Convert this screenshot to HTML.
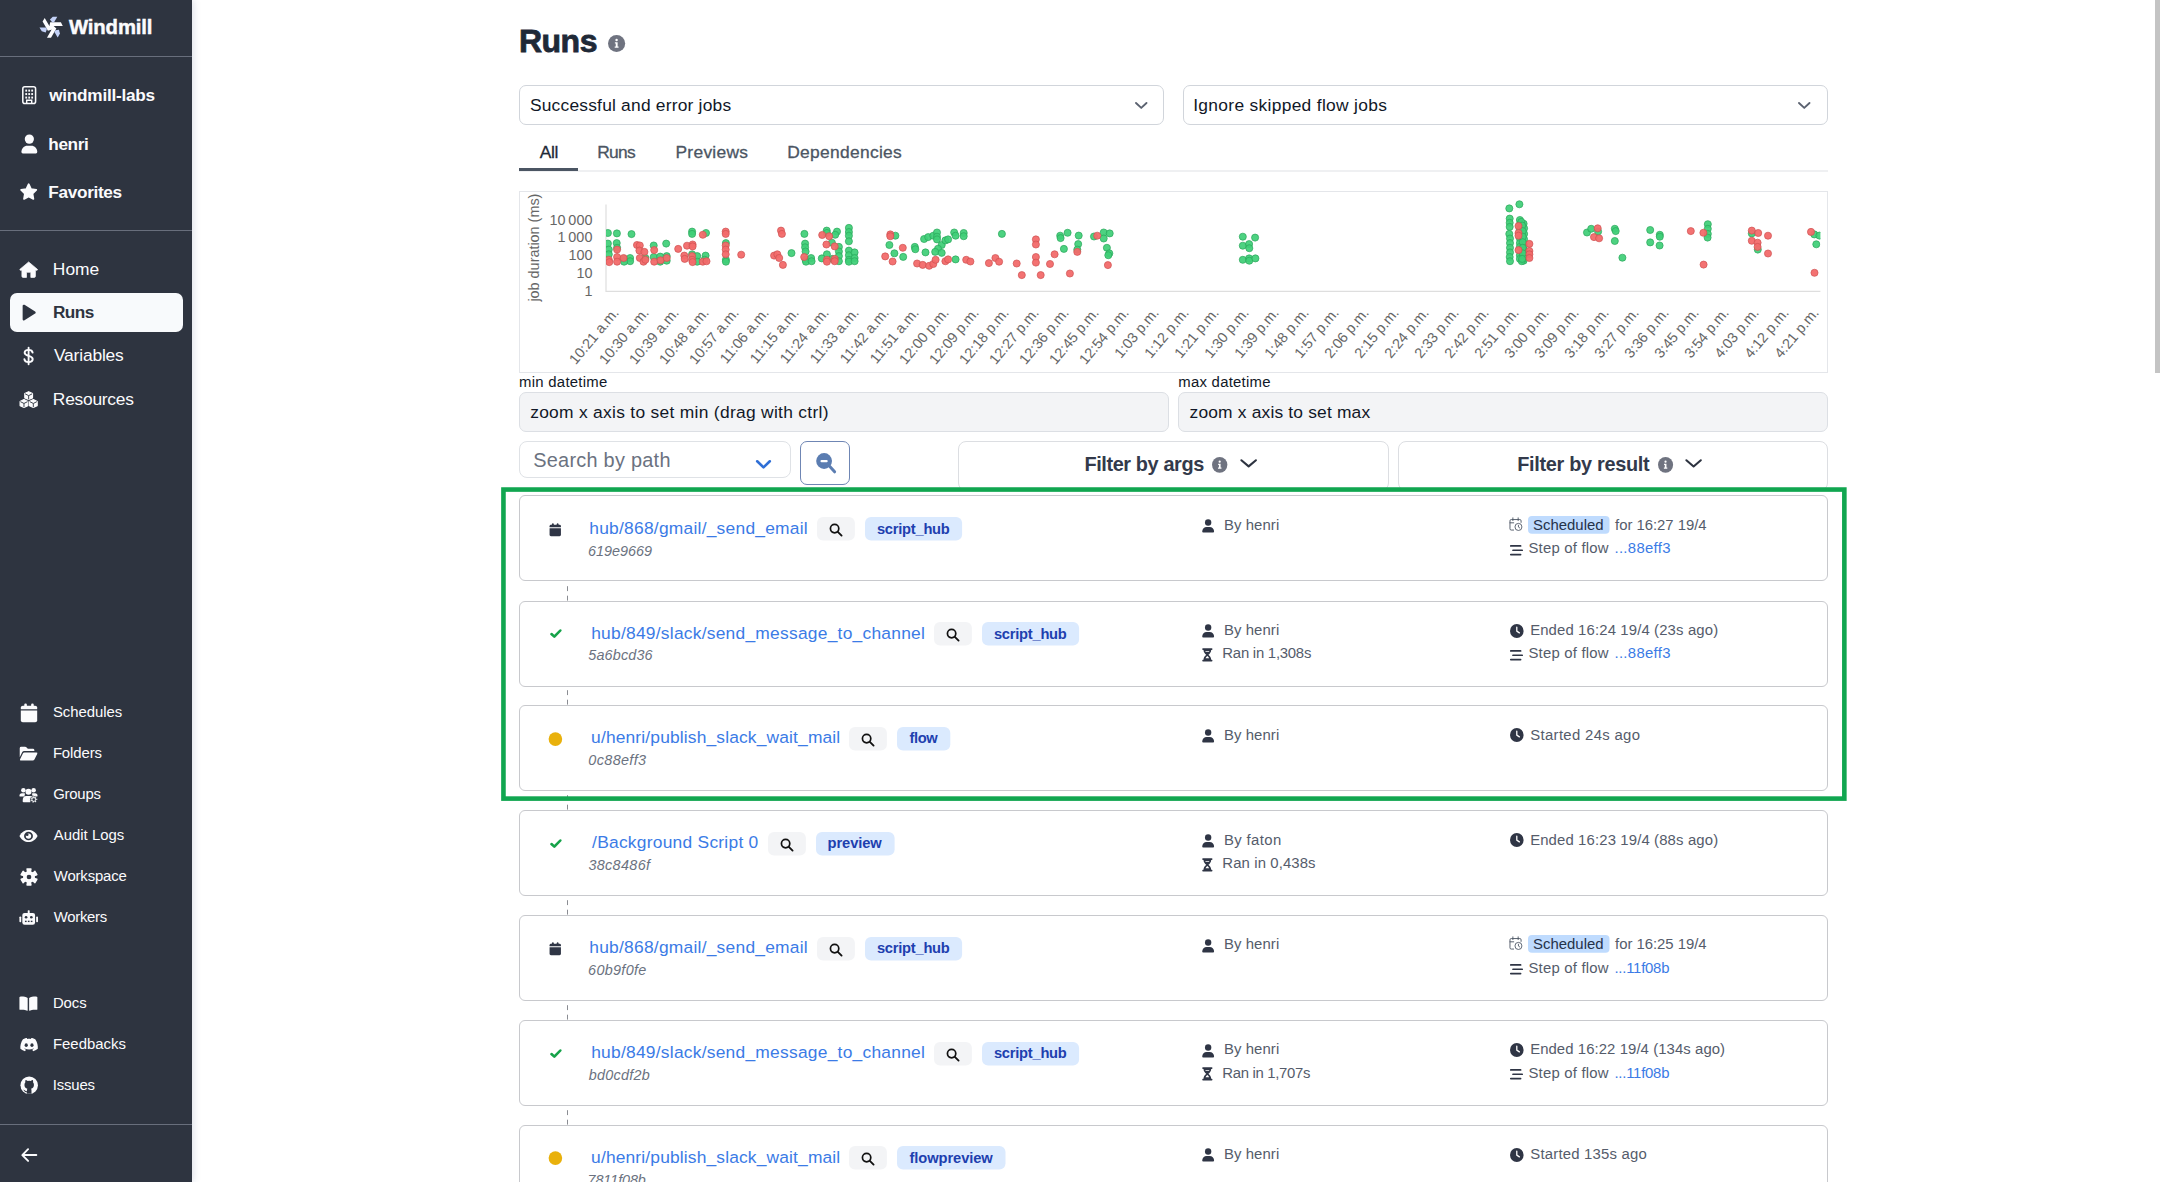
<!DOCTYPE html>
<html lang="en"><head><meta charset="utf-8"><title>Runs | Windmill</title>
<style>
html,body{margin:0;padding:0;}
body{width:2160px;height:1182px;position:relative;overflow:hidden;background:#fff;font-family:"Liberation Sans",sans-serif;}
.t{position:absolute;white-space:nowrap;line-height:1;}
.b{position:absolute;box-sizing:border-box;}
.i{position:absolute;overflow:visible;}
#sidebar{position:absolute;left:0;top:0;width:192px;height:1182px;background:#2e3440;box-shadow:2px 0 7px rgba(60,80,130,0.16);}
.hr{position:absolute;left:0;width:192px;height:1px;background:#686e7c;}
a{color:inherit;text-decoration:none;}
</style></head><body>

<div id="sidebar">
<div class="hr" style="top:56px"></div><div class="hr" style="top:230px"></div><div class="hr" style="top:1124px"></div>
<div class="b" style="left:10.00px;top:293.00px;width:173.00px;height:39.20px;background:#f8fafc;border-radius:7px;"></div>
<svg class="i" style="left:38.60px;top:15.60px;color:#fff;" width="24.60" height="22.80" viewBox="-12.5 -11.2 24.6 22.8" preserveAspectRatio="none"><g transform="rotate(0)"><path d="M-1.3 -4.86 L9.4 -4.86 L11.3 -1.3 L2.0 -1.3 L0.4 1.2 L-2.2 -0.6 Z" fill="#fdfdff"/><path d="M-1.6 -7.65 L1.3 -10.5 L5.8 -10.5 L2.6 -4.86 L0.65 -4.86 Z" fill="#c3d1f7"/></g><g transform="rotate(120)"><path d="M-1.3 -4.86 L9.4 -4.86 L11.3 -1.3 L2.0 -1.3 L0.4 1.2 L-2.2 -0.6 Z" fill="#fdfdff"/><path d="M-1.6 -7.65 L1.3 -10.5 L5.8 -10.5 L2.6 -4.86 L0.65 -4.86 Z" fill="#c3d1f7"/></g><g transform="rotate(240)"><path d="M-1.3 -4.86 L9.4 -4.86 L11.3 -1.3 L2.0 -1.3 L0.4 1.2 L-2.2 -0.6 Z" fill="#fdfdff"/><path d="M-1.6 -7.65 L1.3 -10.5 L5.8 -10.5 L2.6 -4.86 L0.65 -4.86 Z" fill="#c3d1f7"/></g></svg>
<div class="t" id="t1" style="left:68.97px;top:17.00px;font-size:20.3px;color:#fbfbfd;font-weight:700;letter-spacing:-0.117px;-webkit-text-stroke:0.45px #fbfbfd;">Windmill</div>
<svg class="i" style="left:21.80px;top:86.30px;color:#fbfbfd;" width="14.40" height="18.40" viewBox="0 0 16 20" preserveAspectRatio="none"><rect x="0.9" y="0.9" width="14.2" height="18.2" rx="2.2" fill="none" stroke="currentColor" stroke-width="1.7"/>
<g fill="currentColor"><rect x="3.7" y="3.9" width="2" height="2.2"/><rect x="7" y="3.9" width="2" height="2.2"/><rect x="10.3" y="3.9" width="2" height="2.2"/>
<rect x="3.7" y="7.7" width="2" height="2.2"/><rect x="7" y="7.7" width="2" height="2.2"/><rect x="10.3" y="7.7" width="2" height="2.2"/>
<rect x="3.7" y="11.5" width="2" height="2.2"/><rect x="7" y="11.5" width="2" height="2.2"/><rect x="10.3" y="11.5" width="2" height="2.2"/></g>
<path d="M5.2 19 V15.6 H10.8 V19" fill="none" stroke="currentColor" stroke-width="1.6"/></svg>
<div class="t" id="t2" style="left:49.20px;top:87.00px;font-size:17.2px;color:#fbfbfd;font-weight:700;letter-spacing:-0.242px;">windmill-labs</div>
<svg class="i" style="left:20.70px;top:133.70px;color:#fbfbfd;" width="16.70" height="19.90" viewBox="0 0 24 28" preserveAspectRatio="none"><circle cx="12" cy="7.2" r="6.6" fill="currentColor"/><path d="M0.6 25.5 C0.6 19.8 4.6 16.4 9 16.4 H15 C19.4 16.4 23.4 19.8 23.4 25.5 Q23.4 27.6 21.4 27.6 H2.6 Q0.6 27.6 0.6 25.5Z" fill="currentColor"/></svg>
<div class="t" id="t3" style="left:48.25px;top:136.00px;font-size:17.2px;color:#fbfbfd;font-weight:700;letter-spacing:-0.347px;">henri</div>
<svg class="i" style="left:20.30px;top:183.00px;color:#fbfbfd;" width="17.40" height="17.80" viewBox="0 0 24 24" preserveAspectRatio="none"><path d="M12.00 1.60 L15.23 8.15 L22.46 9.20 L17.23 14.30 L18.47 21.50 L12.00 18.10 L5.53 21.50 L6.77 14.30 L1.54 9.20 L8.77 8.15Z" fill="currentColor" stroke="currentColor" stroke-width="2.4" stroke-linejoin="round"/></svg>
<div class="t" id="t4" style="left:48.34px;top:184.00px;font-size:17.2px;color:#fbfbfd;font-weight:700;letter-spacing:-0.327px;">Favorites</div>
<svg class="i" style="left:19.30px;top:260.90px;color:#fbfbfd;" width="19.30" height="17.20" viewBox="0 0 24 22" preserveAspectRatio="none"><path d="M12 1.2 L1.2 10.6 Q0.6 11.8 1.8 11.9 H3.6 V19.6 Q3.6 21 5 21 H9.3 V14.4 H14.7 V21 H19 Q20.4 21 20.4 19.6 V11.9 H22.2 Q23.4 11.8 22.8 10.6 Z" fill="currentColor" stroke="currentColor" stroke-width="0.9" stroke-linejoin="round"/></svg>
<div class="t" id="t5" style="left:52.84px;top:261.00px;font-size:17.4px;color:#fbfbfd;letter-spacing:-0.001px;">Home</div>
<svg class="i" style="left:22.00px;top:304.20px;color:#2e3440;" width="14.20" height="17.10" viewBox="0 0 20 24" preserveAspectRatio="none"><path d="M2.6 2.6 L17.6 12 L2.6 21.4 Z" fill="currentColor" stroke="currentColor" stroke-width="3.4" stroke-linejoin="round"/></svg>
<div class="t" id="t6" style="left:53.00px;top:304.00px;font-size:17.2px;color:#2e3440;font-weight:700;letter-spacing:-0.587px;">Runs</div>
<svg class="i" style="left:23.30px;top:347.40px;color:#fbfbfd;" width="11.20" height="18.00" viewBox="0 0 14 24" preserveAspectRatio="none"><path d="M12 7.4 C11.6 4.8 9.6 3.8 7 3.8 C4.2 3.8 2.1 5.2 2.1 7.6 C2.1 10.2 4.4 10.9 7 11.7 C9.8 12.5 12.1 13.3 12.1 16.1 C12.1 18.6 9.9 20.1 7 20.1 C4.2 20.1 2.2 18.9 1.8 16.4" fill="none" stroke="currentColor" stroke-width="2.5" stroke-linecap="round"/><path d="M7 0.9 V23.1" stroke="currentColor" stroke-width="2.3" stroke-linecap="round"/></svg>
<div class="t" id="t7" style="left:53.93px;top:347.00px;font-size:17.4px;color:#fbfbfd;letter-spacing:-0.167px;">Variables</div>
<svg class="i" style="left:19.30px;top:390.60px;color:#fbfbfd;" width="19.30" height="17.40" viewBox="0 0 26 24" preserveAspectRatio="none"><path d="M13 0.9399999999999995 L18.2 3.5608 V9.457600000000001 L13 11.860000000000001 L7.8 9.457600000000001 V3.5608 Z" fill="currentColor" stroke="currentColor" stroke-width="1.6" stroke-linejoin="round"/><path d="M8.2 3.8884000000000003 L13 6.4 L17.8 3.8884000000000003 M13 6.4 V11.56" fill="none" stroke="#2e3440" stroke-width="1.25"/><path d="M6.7 11.739999999999998 L11.9 14.3608 V20.2576 L6.7 22.66 L1.5 20.2576 V14.3608 Z" fill="currentColor" stroke="currentColor" stroke-width="1.6" stroke-linejoin="round"/><path d="M1.9 14.6884 L6.7 17.2 L11.5 14.6884 M6.7 17.2 V22.36" fill="none" stroke="#2e3440" stroke-width="1.25"/><path d="M19.3 11.739999999999998 L24.5 14.3608 V20.2576 L19.3 22.66 L14.100000000000001 20.2576 V14.3608 Z" fill="currentColor" stroke="currentColor" stroke-width="1.6" stroke-linejoin="round"/><path d="M14.500000000000002 14.6884 L19.3 17.2 L24.1 14.6884 M19.3 17.2 V22.36" fill="none" stroke="#2e3440" stroke-width="1.25"/></svg>
<div class="t" id="t8" style="left:52.84px;top:391.00px;font-size:17.4px;color:#fbfbfd;letter-spacing:-0.257px;">Resources</div>
<svg class="i" style="left:20.00px;top:703.10px;color:#fbfbfd;" width="18.00" height="19.70" viewBox="0 0 22 24" preserveAspectRatio="none"><rect x="5.2" y="0.6" width="3.2" height="6" rx="1.5" fill="currentColor"/><rect x="13.6" y="0.6" width="3.2" height="6" rx="1.5" fill="currentColor"/>
<path d="M1 7.6 V5.6 Q1 3.2 3.4 3.2 H18.6 Q21 3.2 21 5.6 V7.6 Z" fill="currentColor"/><path d="M1 9.2 H21 V21 Q21 23.4 18.6 23.4 H3.4 Q1 23.4 1 21 Z" fill="currentColor"/></svg>
<div class="t" id="t9" style="left:52.98px;top:705.00px;font-size:14.9px;color:#fbfbfd;letter-spacing:-0.026px;">Schedules</div>
<svg class="i" style="left:19.20px;top:746.00px;color:#fbfbfd;" width="19.00" height="15.20" viewBox="0 0 26 21" preserveAspectRatio="none"><path d="M1 3 Q1 1 3 1 H8.4 Q9.4 1 10.1 1.7 L11.4 3 Q12.1 3.7 13.1 3.7 H19 Q21 3.7 21 5.7 V7 H7.2 Q5.2 7 4.3 8.8 L1 15.4 Z" fill="currentColor"/><path d="M7.4 9 H23.8 Q25.9 9 24.9 10.9 L21.1 18.6 Q20.4 20 18.9 20 H2.4 Q0.6 20 1.5 18.3 L5.3 10.4 Q6 9 7.4 9 Z" fill="currentColor"/></svg>
<div class="t" id="t10" style="left:52.89px;top:746.00px;font-size:14.9px;color:#fbfbfd;letter-spacing:-0.096px;">Folders</div>
<svg class="i" style="left:19.40px;top:786.80px;color:#fbfbfd;" width="19.00" height="15.90" viewBox="0 0 26 22" preserveAspectRatio="none"><circle cx="6" cy="4.4" r="3.1" fill="currentColor"/><circle cx="20" cy="4.4" r="3.1" fill="currentColor"/><circle cx="13" cy="6.6" r="4.1" fill="currentColor"/>
<path d="M0.6 12.4 Q0.6 8.8 4 8.8 H7.2 Q8 8.8 8.6 9.2 Q7.2 11 7.6 13 H1.2 Q0.6 13 0.6 12.4Z" fill="currentColor"/>
<path d="M25.4 12.4 Q25.4 8.8 22 8.8 H18.8 Q18 8.8 17.4 9.2 Q18.8 11 18.4 13 H24.8 Q25.4 13 25.4 12.4Z" fill="currentColor"/>
<path d="M5 19.6 Q5 12.6 10 12.6 H16 Q17.5 12.6 18.4 13.2 L15.4 16 L15.4 21 H6.4 Q5 21 5 19.6Z" fill="currentColor"/>
<path d="M25.11 16.26 L25.11 18.14 L23.72 17.96 L22.99 19.47 L23.99 20.46 L22.53 21.62 L21.80 20.43 L20.16 20.80 L20.02 22.20 L18.19 21.78 L18.67 20.46 L17.36 19.41 L16.18 20.18 L15.37 18.49 L16.70 18.04 L16.70 16.36 L15.37 15.91 L16.18 14.22 L17.36 14.99 L18.67 13.94 L18.19 12.62 L20.02 12.20 L20.16 13.60 L21.80 13.97 L22.53 12.78 L23.99 13.94 L22.99 14.93 L23.72 16.44Z M21.9 17.2 A1.7 1.7 0 1 0 18.5 17.2 A1.7 1.7 0 1 0 21.9 17.2Z" fill="currentColor" fill-rule="evenodd" stroke="#2e3440" stroke-width="0.5"/></svg>
<div class="t" id="t11" style="left:53.24px;top:787.00px;font-size:14.9px;color:#fbfbfd;letter-spacing:-0.232px;">Groups</div>
<svg class="i" style="left:19.40px;top:828.50px;color:#fbfbfd;" width="19.00" height="14.10" viewBox="0 0 26 20" preserveAspectRatio="none"><path d="M0.6 10 C3.6 4 8 1.4 13 1.4 S22.4 4 25.4 10 C22.4 16 18 18.6 13 18.6 S3.6 16 0.6 10Z" fill="currentColor"/><circle cx="13" cy="10" r="6.1" fill="#2e3440"/><circle cx="13" cy="10" r="3.7" fill="currentColor"/><circle cx="11.2" cy="8.2" r="1.9" fill="#2e3440"/></svg>
<div class="t" id="t12" style="left:53.79px;top:828.00px;font-size:14.9px;color:#fbfbfd;letter-spacing:0.005px;">Audit Logs</div>
<svg class="i" style="left:20.00px;top:867.60px;color:#fbfbfd;" width="18.00" height="18.00" viewBox="0 0 24 24" preserveAspectRatio="none"><path d="M9.40 1.41 L14.60 1.41 L13.82 5.03 L17.12 6.94 L19.87 4.46 L22.47 8.96 L18.94 10.09 L18.94 13.91 L22.47 15.04 L19.87 19.54 L17.12 17.06 L13.82 18.97 L14.60 22.59 L9.40 22.59 L10.18 18.97 L6.88 17.06 L4.13 19.54 L1.53 15.04 L5.06 13.91 L5.06 10.09 L1.53 8.96 L4.13 4.46 L6.88 6.94 L10.18 5.03Z M15.3 12 A3.3 3.3 0 1 0 8.7 12 A3.3 3.3 0 1 0 15.3 12Z" fill="currentColor" fill-rule="evenodd" stroke="currentColor" stroke-width="1.9" stroke-linejoin="round"/><circle cx="12" cy="12" r="3.1" fill="#2e3440"/></svg>
<div class="t" id="t13" style="left:53.82px;top:869.00px;font-size:14.9px;color:#fbfbfd;letter-spacing:-0.155px;">Workspace</div>
<svg class="i" style="left:19.20px;top:909.90px;color:#fbfbfd;" width="19.40" height="15.10" viewBox="0 0 28 22" preserveAspectRatio="none"><rect x="12.6" y="0.4" width="2.8" height="5" rx="1" fill="currentColor"/><rect x="4.8" y="4.2" width="18.4" height="17.2" rx="3.2" fill="currentColor"/>
<rect x="0.6" y="9.4" width="2.6" height="8.4" rx="1.2" fill="currentColor"/><rect x="24.8" y="9.4" width="2.6" height="8.4" rx="1.2" fill="currentColor"/>
<circle cx="10.2" cy="10.6" r="1.9" fill="#2e3440"/><circle cx="17.8" cy="10.6" r="1.9" fill="#2e3440"/>
<rect x="8.6" y="15.6" width="2.4" height="2" fill="#2e3440"/><rect x="12.8" y="15.6" width="2.4" height="2" fill="#2e3440"/><rect x="17" y="15.6" width="2.4" height="2" fill="#2e3440"/></svg>
<div class="t" id="t14" style="left:53.82px;top:910.00px;font-size:14.9px;color:#fbfbfd;letter-spacing:-0.294px;">Workers</div>
<svg class="i" style="left:19.40px;top:996.00px;color:#fbfbfd;" width="18.80" height="15.30" viewBox="0 0 26 21" preserveAspectRatio="none"><path d="M0.6 1.8 Q0.6 0.9 1.5 0.9 C5 0.6 9.4 1.2 12 2.6 V20.4 C9.2 19 5 18.6 1.5 19 Q0.6 19 0.6 18.1Z" fill="currentColor"/><path d="M25.4 1.8 Q25.4 0.9 24.5 0.9 C21 0.6 16.6 1.2 14 2.6 V20.4 C16.8 19 21 18.6 24.5 19 Q25.4 19 25.4 18.1Z" fill="currentColor"/></svg>
<div class="t" id="t15" style="left:52.89px;top:996.00px;font-size:14.9px;color:#fbfbfd;letter-spacing:-0.039px;">Docs</div>
<svg class="i" style="left:19.60px;top:1038.20px;color:#fbfbfd;" width="18.20" height="13.40" viewBox="0 0 24 18" preserveAspectRatio="none"><path d="M3.9 1.6 C6 0.6 8 0.2 9 0.1 L9.6 1.3 C11.2 1.1 12.8 1.1 14.4 1.3 L15 0.1 C16 0.2 18 0.6 20.1 1.6 C22.8 5.6 23.9 10 23.5 14.6 C21.6 16.2 19.2 17.2 17.4 17.7 L16.1 15.7 C16.9 15.4 17.7 15 18.3 14.6 L17.9 14.2 C14.1 16 9.9 16 6.1 14.2 L5.7 14.6 C6.3 15 7.1 15.4 7.9 15.7 L6.6 17.7 C4.8 17.2 2.4 16.2 0.5 14.6 C0.1 10 1.2 5.6 3.9 1.6Z" fill="currentColor"/><ellipse cx="8.2" cy="9.6" rx="2.1" ry="2.4" fill="#2e3440"/><ellipse cx="15.8" cy="9.6" rx="2.1" ry="2.4" fill="#2e3440"/></svg>
<div class="t" id="t16" style="left:52.89px;top:1037.00px;font-size:14.9px;color:#fbfbfd;letter-spacing:0.031px;">Feedbacks</div>
<svg class="i" style="left:19.60px;top:1076.20px;color:#fbfbfd;" width="18.40" height="18.50" viewBox="0 0 24 24" preserveAspectRatio="none"><circle cx="12" cy="12" r="11.4" fill="currentColor"/>
<path d="M7.2 5.2 Q8.6 5.4 10 6.4 Q12 5.9 14 6.4 Q15.4 5.4 16.8 5.2 Q17.4 6.8 17 8.2 Q18.3 9.6 18.2 11.8 Q18 15.8 14.4 16.6 Q15 17.4 15 18.6 V23 H9 V21 Q6.4 21.6 5.4 19.2 Q5 18.2 4.2 17.8 Q5.4 17.4 6.2 18.6 Q7.2 20.2 9 19.4 Q9 17.6 9.6 16.6 Q6 15.8 5.8 11.8 Q5.7 9.6 7 8.2 Q6.6 6.8 7.2 5.2Z" fill="#2e3440"/></svg>
<div class="t" id="t17" style="left:52.72px;top:1078.00px;font-size:14.9px;color:#fbfbfd;letter-spacing:-0.160px;">Issues</div>
<svg class="i" style="left:20.60px;top:1148.20px;color:#fbfbfd;" width="16.50" height="14.10" viewBox="0 0 20 17" preserveAspectRatio="none"><path d="M18.6 8.5 H2.2 M8.6 1.4 L1.6 8.5 L8.6 15.6" fill="none" stroke="currentColor" stroke-width="2.3" stroke-linecap="round" stroke-linejoin="round"/></svg>
</div>
<div class="t" id="t18" style="left:519.00px;top:25.00px;font-size:32px;color:#1f2937;font-weight:700;letter-spacing:-0.522px;-webkit-text-stroke:0.8px #1f2937;">Runs</div>
<svg class="i" style="left:608.20px;top:34.70px;color:#6f7380;" width="17.20" height="17.00" viewBox="0 0 20 20" preserveAspectRatio="none"><circle cx="10" cy="10" r="10" fill="currentColor"/><circle cx="10" cy="5.9" r="1.45" fill="#fff"/><path d="M8 8.6 H11.2 V13.4 H12.3 V14.9 H7.8 V13.4 H9 V10.1 H8Z" fill="#fff"/></svg>
<div class="b" style="left:519.00px;top:85.00px;width:645.00px;height:40.00px;border:1px solid #d1d5db;border-radius:7px;"></div>
<div class="b" style="left:1183.00px;top:85.00px;width:645.00px;height:40.00px;border:1px solid #d1d5db;border-radius:7px;"></div>
<div class="t" id="t19" style="left:529.92px;top:97.00px;font-size:17.4px;color:#111827;letter-spacing:0.208px;">Successful and error jobs</div>
<div class="t" id="t20" style="left:1193.21px;top:97.00px;font-size:17.4px;color:#111827;letter-spacing:0.308px;">Ignore skipped flow jobs</div>
<svg class="i" style="left:1134.70px;top:101.70px;color:#5b6270;stroke-width:1.9" width="12.50" height="6.90" viewBox="0 0 20 11" preserveAspectRatio="none"><path d="M1.6 1.6 L10 9.4 L18.4 1.6" fill="none" stroke="currentColor" stroke-width="inherit" stroke-linecap="round" stroke-linejoin="round" vector-effect="non-scaling-stroke"/></svg>
<svg class="i" style="left:1798.20px;top:101.70px;color:#5b6270;stroke-width:1.9" width="12.50" height="6.90" viewBox="0 0 20 11" preserveAspectRatio="none"><path d="M1.6 1.6 L10 9.4 L18.4 1.6" fill="none" stroke="currentColor" stroke-width="inherit" stroke-linecap="round" stroke-linejoin="round" vector-effect="non-scaling-stroke"/></svg>
<div class="b" style="left:519.00px;top:170.00px;width:1309.00px;height:1.50px;background:#eff0f2;"></div>
<div class="b" style="left:519.00px;top:168.30px;width:59.00px;height:2.70px;background:#4b5563;"></div>
<div class="t" id="t21" style="left:539.67px;top:144.00px;font-size:17.4px;color:#1f2937;letter-spacing:-0.288px;-webkit-text-stroke:0.3px #1f2937;">All</div>
<div class="t" id="t22" style="left:597.20px;top:144.00px;font-size:17.4px;color:#4b5563;letter-spacing:-0.674px;-webkit-text-stroke:0.3px #4b5563;">Runs</div>
<div class="t" id="t23" style="left:675.50px;top:144.00px;font-size:17.4px;color:#4b5563;letter-spacing:0.275px;-webkit-text-stroke:0.3px #4b5563;">Previews</div>
<div class="t" id="t24" style="left:787.26px;top:144.00px;font-size:17.4px;color:#4b5563;letter-spacing:0.300px;-webkit-text-stroke:0.3px #4b5563;">Dependencies</div>
<div class="b" style="left:519.00px;top:191.00px;width:1309.00px;height:182.00px;border:1px solid #e4e6ea;"></div>
<svg class="i" style="left:519px;top:191px" width="1308" height="181" viewBox="519 191 1308 181" font-family="'Liberation Sans',sans-serif" font-size="14.4" fill="#666">
<defs><clipPath id="cp"><rect x="606" y="200" width="1214.4" height="92"/></clipPath></defs>
<path d="M606 204.4 V291.4 H1820.4" fill="none" stroke="#dedede" stroke-width="1.2"/>
<text transform="translate(539.3 247.6) rotate(-90)" text-anchor="middle" textLength="108" lengthAdjust="spacing">job duration (ms)</text>
<text x="592.4" y="225.3" text-anchor="end">10 000</text>
<text x="592.4" y="242.3" text-anchor="end">1 000</text>
<text x="592.4" y="260.4" text-anchor="end">100</text>
<text x="592.4" y="278.4" text-anchor="end">10</text>
<text x="592.4" y="296.4" text-anchor="end">1</text>
<text transform="translate(619.5 313.1) rotate(-50)" text-anchor="end">10:21 a.m.</text>
<text transform="translate(649.5 313.1) rotate(-50)" text-anchor="end">10:30 a.m.</text>
<text transform="translate(679.5 313.1) rotate(-50)" text-anchor="end">10:39 a.m.</text>
<text transform="translate(709.5 313.1) rotate(-50)" text-anchor="end">10:48 a.m.</text>
<text transform="translate(739.5 313.1) rotate(-50)" text-anchor="end">10:57 a.m.</text>
<text transform="translate(769.5 313.1) rotate(-50)" text-anchor="end">11:06 a.m.</text>
<text transform="translate(799.5 313.1) rotate(-50)" text-anchor="end">11:15 a.m.</text>
<text transform="translate(829.5 313.1) rotate(-50)" text-anchor="end">11:24 a.m.</text>
<text transform="translate(859.5 313.1) rotate(-50)" text-anchor="end">11:33 a.m.</text>
<text transform="translate(889.5 313.1) rotate(-50)" text-anchor="end">11:42 a.m.</text>
<text transform="translate(919.5 313.1) rotate(-50)" text-anchor="end">11:51 a.m.</text>
<text transform="translate(949.5 313.1) rotate(-50)" text-anchor="end">12:00 p.m.</text>
<text transform="translate(979.5 313.1) rotate(-50)" text-anchor="end">12:09 p.m.</text>
<text transform="translate(1009.5 313.1) rotate(-50)" text-anchor="end">12:18 p.m.</text>
<text transform="translate(1039.5 313.1) rotate(-50)" text-anchor="end">12:27 p.m.</text>
<text transform="translate(1069.5 313.1) rotate(-50)" text-anchor="end">12:36 p.m.</text>
<text transform="translate(1099.5 313.1) rotate(-50)" text-anchor="end">12:45 p.m.</text>
<text transform="translate(1129.5 313.1) rotate(-50)" text-anchor="end">12:54 p.m.</text>
<text transform="translate(1159.5 313.1) rotate(-50)" text-anchor="end">1:03 p.m.</text>
<text transform="translate(1189.5 313.1) rotate(-50)" text-anchor="end">1:12 p.m.</text>
<text transform="translate(1219.5 313.1) rotate(-50)" text-anchor="end">1:21 p.m.</text>
<text transform="translate(1249.5 313.1) rotate(-50)" text-anchor="end">1:30 p.m.</text>
<text transform="translate(1279.5 313.1) rotate(-50)" text-anchor="end">1:39 p.m.</text>
<text transform="translate(1309.5 313.1) rotate(-50)" text-anchor="end">1:48 p.m.</text>
<text transform="translate(1339.5 313.1) rotate(-50)" text-anchor="end">1:57 p.m.</text>
<text transform="translate(1369.5 313.1) rotate(-50)" text-anchor="end">2:06 p.m.</text>
<text transform="translate(1399.5 313.1) rotate(-50)" text-anchor="end">2:15 p.m.</text>
<text transform="translate(1429.5 313.1) rotate(-50)" text-anchor="end">2:24 p.m.</text>
<text transform="translate(1459.5 313.1) rotate(-50)" text-anchor="end">2:33 p.m.</text>
<text transform="translate(1489.5 313.1) rotate(-50)" text-anchor="end">2:42 p.m.</text>
<text transform="translate(1519.5 313.1) rotate(-50)" text-anchor="end">2:51 p.m.</text>
<text transform="translate(1549.5 313.1) rotate(-50)" text-anchor="end">3:00 p.m.</text>
<text transform="translate(1579.5 313.1) rotate(-50)" text-anchor="end">3:09 p.m.</text>
<text transform="translate(1609.5 313.1) rotate(-50)" text-anchor="end">3:18 p.m.</text>
<text transform="translate(1639.5 313.1) rotate(-50)" text-anchor="end">3:27 p.m.</text>
<text transform="translate(1669.5 313.1) rotate(-50)" text-anchor="end">3:36 p.m.</text>
<text transform="translate(1699.5 313.1) rotate(-50)" text-anchor="end">3:45 p.m.</text>
<text transform="translate(1729.5 313.1) rotate(-50)" text-anchor="end">3:54 p.m.</text>
<text transform="translate(1759.5 313.1) rotate(-50)" text-anchor="end">4:03 p.m.</text>
<text transform="translate(1789.5 313.1) rotate(-50)" text-anchor="end">4:12 p.m.</text>
<text transform="translate(1819.5 313.1) rotate(-50)" text-anchor="end">4:21 p.m.</text>
<g clip-path="url(#cp)" stroke-width="0.7">
<g fill="#3fcf77" fill-opacity="0.93" stroke="#2aa65a">
<circle cx="607.9" cy="233.0" r="3.55"/>
<circle cx="616.9" cy="233.4" r="3.55"/>
<circle cx="631.5" cy="234.1" r="3.55"/>
<circle cx="607.9" cy="243.6" r="3.55"/>
<circle cx="616.7" cy="243.1" r="3.55"/>
<circle cx="608.8" cy="249.6" r="3.55"/>
<circle cx="608.8" cy="254.3" r="3.55"/>
<circle cx="617.1" cy="247.8" r="3.55"/>
<circle cx="624.1" cy="258.9" r="3.55"/>
<circle cx="630.1" cy="258.0" r="3.55"/>
<circle cx="630.1" cy="261.2" r="3.55"/>
<circle cx="624.1" cy="261.7" r="3.55"/>
<circle cx="653.7" cy="245.5" r="3.55"/>
<circle cx="666.2" cy="243.6" r="3.55"/>
<circle cx="653.7" cy="257.0" r="3.55"/>
<circle cx="660.2" cy="256.6" r="3.55"/>
<circle cx="666.7" cy="256.1" r="3.55"/>
<circle cx="666.7" cy="260.7" r="3.55"/>
<circle cx="660.2" cy="261.7" r="3.55"/>
<circle cx="692.1" cy="231.6" r="3.55"/>
<circle cx="692.1" cy="233.9" r="3.55"/>
<circle cx="706.0" cy="233.0" r="3.55"/>
<circle cx="692.1" cy="254.3" r="3.55"/>
<circle cx="697.2" cy="256.1" r="3.55"/>
<circle cx="697.2" cy="261.7" r="3.55"/>
<circle cx="705.6" cy="255.6" r="3.55"/>
<circle cx="704.6" cy="259.8" r="3.55"/>
<circle cx="725.9" cy="243.1" r="3.55"/>
<circle cx="725.9" cy="259.8" r="3.55"/>
<circle cx="725.9" cy="261.7" r="3.55"/>
<circle cx="791.5" cy="253.1" r="3.55"/>
<circle cx="645.4" cy="258.0" r="3.55"/>
<circle cx="804.4" cy="233.9" r="3.55"/>
<circle cx="805.1" cy="243.6" r="3.55"/>
<circle cx="805.1" cy="247.3" r="3.55"/>
<circle cx="805.6" cy="251.5" r="3.55"/>
<circle cx="805.6" cy="259.8" r="3.55"/>
<circle cx="806.0" cy="261.7" r="3.55"/>
<circle cx="811.1" cy="258.0" r="3.55"/>
<circle cx="811.6" cy="261.2" r="3.55"/>
<circle cx="826.7" cy="230.6" r="3.55"/>
<circle cx="826.9" cy="233.0" r="3.55"/>
<circle cx="837.0" cy="231.6" r="3.55"/>
<circle cx="835.2" cy="234.8" r="3.55"/>
<circle cx="831.9" cy="242.7" r="3.55"/>
<circle cx="838.9" cy="246.9" r="3.55"/>
<circle cx="838.9" cy="251.5" r="3.55"/>
<circle cx="838.9" cy="256.1" r="3.55"/>
<circle cx="838.9" cy="261.2" r="3.55"/>
<circle cx="826.9" cy="254.3" r="3.55"/>
<circle cx="821.8" cy="258.4" r="3.55"/>
<circle cx="832.4" cy="258.9" r="3.55"/>
<circle cx="848.9" cy="227.9" r="3.55"/>
<circle cx="848.9" cy="232.0" r="3.55"/>
<circle cx="848.9" cy="235.7" r="3.55"/>
<circle cx="848.9" cy="241.3" r="3.55"/>
<circle cx="848.9" cy="250.6" r="3.55"/>
<circle cx="848.9" cy="255.2" r="3.55"/>
<circle cx="848.9" cy="259.8" r="3.55"/>
<circle cx="848.9" cy="261.7" r="3.55"/>
<circle cx="854.6" cy="252.4" r="3.55"/>
<circle cx="854.6" cy="258.0" r="3.55"/>
<circle cx="854.6" cy="261.2" r="3.55"/>
<circle cx="895.4" cy="235.7" r="3.55"/>
<circle cx="889.4" cy="245.0" r="3.55"/>
<circle cx="894.4" cy="253.3" r="3.55"/>
<circle cx="903.2" cy="256.9" r="3.55"/>
<circle cx="914.8" cy="246.9" r="3.55"/>
<circle cx="915.3" cy="249.2" r="3.55"/>
<circle cx="925.5" cy="252.4" r="3.55"/>
<circle cx="924.1" cy="239.0" r="3.55"/>
<circle cx="928.2" cy="237.1" r="3.55"/>
<circle cx="933.3" cy="235.7" r="3.55"/>
<circle cx="937.0" cy="232.5" r="3.55"/>
<circle cx="937.0" cy="236.7" r="3.55"/>
<circle cx="937.0" cy="239.4" r="3.55"/>
<circle cx="941.7" cy="245.0" r="3.55"/>
<circle cx="938.0" cy="248.7" r="3.55"/>
<circle cx="935.2" cy="251.9" r="3.55"/>
<circle cx="941.7" cy="252.9" r="3.55"/>
<circle cx="945.4" cy="240.4" r="3.55"/>
<circle cx="948.1" cy="239.4" r="3.55"/>
<circle cx="954.2" cy="232.5" r="3.55"/>
<circle cx="955.6" cy="235.7" r="3.55"/>
<circle cx="963.7" cy="233.0" r="3.55"/>
<circle cx="963.7" cy="236.2" r="3.55"/>
<circle cx="955.6" cy="259.4" r="3.55"/>
<circle cx="1001.9" cy="233.9" r="3.55"/>
<circle cx="1060.2" cy="235.7" r="3.55"/>
<circle cx="1060.6" cy="238.1" r="3.55"/>
<circle cx="1067.6" cy="232.8" r="3.55"/>
<circle cx="1078.7" cy="235.6" r="3.55"/>
<circle cx="1078.2" cy="244.1" r="3.55"/>
<circle cx="1077.3" cy="249.6" r="3.55"/>
<circle cx="1063.9" cy="248.9" r="3.55"/>
<circle cx="1094.0" cy="236.5" r="3.55"/>
<circle cx="1103.7" cy="232.5" r="3.55"/>
<circle cx="1103.7" cy="238.5" r="3.55"/>
<circle cx="1109.7" cy="233.4" r="3.55"/>
<circle cx="1106.9" cy="247.8" r="3.55"/>
<circle cx="1109.3" cy="253.3" r="3.55"/>
<circle cx="1108.3" cy="255.2" r="3.55"/>
<circle cx="1242.8" cy="236.7" r="3.55"/>
<circle cx="1255.1" cy="237.6" r="3.55"/>
<circle cx="1242.8" cy="245.7" r="3.55"/>
<circle cx="1249.1" cy="244.1" r="3.55"/>
<circle cx="1249.3" cy="248.2" r="3.55"/>
<circle cx="1242.8" cy="259.8" r="3.55"/>
<circle cx="1249.1" cy="258.4" r="3.55"/>
<circle cx="1249.3" cy="260.7" r="3.55"/>
<circle cx="1255.4" cy="258.4" r="3.55"/>
<circle cx="1509.3" cy="208.4" r="3.55"/>
<circle cx="1519.4" cy="204.3" r="3.55"/>
<circle cx="1509.7" cy="218.6" r="3.55"/>
<circle cx="1509.7" cy="222.8" r="3.55"/>
<circle cx="1509.7" cy="226.9" r="3.55"/>
<circle cx="1509.3" cy="233.9" r="3.55"/>
<circle cx="1510.0" cy="238.5" r="3.55"/>
<circle cx="1510.0" cy="243.1" r="3.55"/>
<circle cx="1510.0" cy="247.8" r="3.55"/>
<circle cx="1510.0" cy="252.4" r="3.55"/>
<circle cx="1509.7" cy="257.0" r="3.55"/>
<circle cx="1510.0" cy="261.2" r="3.55"/>
<circle cx="1519.9" cy="220.0" r="3.55"/>
<circle cx="1519.9" cy="224.6" r="3.55"/>
<circle cx="1519.9" cy="229.3" r="3.55"/>
<circle cx="1519.9" cy="238.5" r="3.55"/>
<circle cx="1519.9" cy="243.1" r="3.55"/>
<circle cx="1519.9" cy="246.9" r="3.55"/>
<circle cx="1519.9" cy="255.2" r="3.55"/>
<circle cx="1519.9" cy="258.9" r="3.55"/>
<circle cx="1523.6" cy="223.7" r="3.55"/>
<circle cx="1524.1" cy="228.3" r="3.55"/>
<circle cx="1524.1" cy="233.9" r="3.55"/>
<circle cx="1524.1" cy="239.4" r="3.55"/>
<circle cx="1524.1" cy="245.0" r="3.55"/>
<circle cx="1524.1" cy="250.6" r="3.55"/>
<circle cx="1524.1" cy="256.1" r="3.55"/>
<circle cx="1523.6" cy="260.7" r="3.55"/>
<circle cx="1521.8" cy="261.2" r="3.55"/>
<circle cx="1521.3" cy="221.9" r="3.55"/>
<circle cx="1522.2" cy="225.6" r="3.55"/>
<circle cx="1522.7" cy="231.1" r="3.55"/>
<circle cx="1522.7" cy="236.7" r="3.55"/>
<circle cx="1522.7" cy="242.2" r="3.55"/>
<circle cx="1522.7" cy="247.8" r="3.55"/>
<circle cx="1522.7" cy="253.3" r="3.55"/>
<circle cx="1522.2" cy="258.9" r="3.55"/>
<circle cx="1587.0" cy="232.5" r="3.55"/>
<circle cx="1591.2" cy="228.8" r="3.55"/>
<circle cx="1598.1" cy="231.6" r="3.55"/>
<circle cx="1614.8" cy="228.8" r="3.55"/>
<circle cx="1615.7" cy="231.1" r="3.55"/>
<circle cx="1614.8" cy="241.0" r="3.55"/>
<circle cx="1622.4" cy="257.7" r="3.55"/>
<circle cx="1650.2" cy="230.0" r="3.55"/>
<circle cx="1650.2" cy="242.4" r="3.55"/>
<circle cx="1659.8" cy="234.8" r="3.55"/>
<circle cx="1659.8" cy="236.7" r="3.55"/>
<circle cx="1659.6" cy="245.5" r="3.55"/>
<circle cx="1707.8" cy="224.2" r="3.55"/>
<circle cx="1707.8" cy="228.8" r="3.55"/>
<circle cx="1707.8" cy="233.9" r="3.55"/>
<circle cx="1707.6" cy="237.6" r="3.55"/>
<circle cx="1751.8" cy="233.4" r="3.55"/>
<circle cx="1757.8" cy="249.6" r="3.55"/>
<circle cx="1814.3" cy="234.4" r="3.55"/>
<circle cx="1819.4" cy="235.6" r="3.55"/>
<circle cx="1816.3" cy="244.3" r="3.55"/>
</g><g fill="#f26a6a" fill-opacity="0.95" stroke="#cf5252">
<circle cx="608.8" cy="259.8" r="3.55"/>
<circle cx="609.3" cy="262.1" r="3.55"/>
<circle cx="617.1" cy="249.6" r="3.55"/>
<circle cx="617.1" cy="257.0" r="3.55"/>
<circle cx="617.1" cy="261.7" r="3.55"/>
<circle cx="623.6" cy="258.0" r="3.55"/>
<circle cx="637.0" cy="245.0" r="3.55"/>
<circle cx="639.8" cy="245.5" r="3.55"/>
<circle cx="639.4" cy="250.6" r="3.55"/>
<circle cx="644.4" cy="251.9" r="3.55"/>
<circle cx="639.8" cy="258.0" r="3.55"/>
<circle cx="643.5" cy="261.7" r="3.55"/>
<circle cx="645.4" cy="259.8" r="3.55"/>
<circle cx="654.2" cy="250.1" r="3.55"/>
<circle cx="654.2" cy="261.7" r="3.55"/>
<circle cx="660.6" cy="260.3" r="3.55"/>
<circle cx="666.7" cy="258.0" r="3.55"/>
<circle cx="678.2" cy="248.9" r="3.55"/>
<circle cx="687.0" cy="245.7" r="3.55"/>
<circle cx="692.6" cy="244.5" r="3.55"/>
<circle cx="692.6" cy="246.4" r="3.55"/>
<circle cx="684.3" cy="255.6" r="3.55"/>
<circle cx="684.7" cy="258.9" r="3.55"/>
<circle cx="692.1" cy="256.1" r="3.55"/>
<circle cx="692.1" cy="259.8" r="3.55"/>
<circle cx="692.6" cy="262.1" r="3.55"/>
<circle cx="702.8" cy="234.8" r="3.55"/>
<circle cx="702.8" cy="261.7" r="3.55"/>
<circle cx="706.5" cy="261.2" r="3.55"/>
<circle cx="725.7" cy="231.6" r="3.55"/>
<circle cx="725.7" cy="233.9" r="3.55"/>
<circle cx="725.7" cy="245.5" r="3.55"/>
<circle cx="725.7" cy="249.6" r="3.55"/>
<circle cx="725.7" cy="254.3" r="3.55"/>
<circle cx="741.2" cy="254.7" r="3.55"/>
<circle cx="781.0" cy="230.6" r="3.55"/>
<circle cx="781.9" cy="233.9" r="3.55"/>
<circle cx="774.1" cy="255.6" r="3.55"/>
<circle cx="777.3" cy="254.3" r="3.55"/>
<circle cx="779.2" cy="258.0" r="3.55"/>
<circle cx="782.9" cy="264.9" r="3.55"/>
<circle cx="804.2" cy="257.0" r="3.55"/>
<circle cx="822.2" cy="235.0" r="3.55"/>
<circle cx="829.2" cy="236.2" r="3.55"/>
<circle cx="826.4" cy="244.5" r="3.55"/>
<circle cx="834.7" cy="246.4" r="3.55"/>
<circle cx="826.9" cy="259.8" r="3.55"/>
<circle cx="826.9" cy="261.7" r="3.55"/>
<circle cx="834.7" cy="258.9" r="3.55"/>
<circle cx="834.7" cy="261.2" r="3.55"/>
<circle cx="890.3" cy="234.4" r="3.55"/>
<circle cx="890.3" cy="236.2" r="3.55"/>
<circle cx="902.8" cy="247.8" r="3.55"/>
<circle cx="885.2" cy="256.4" r="3.55"/>
<circle cx="892.6" cy="261.5" r="3.55"/>
<circle cx="917.1" cy="263.5" r="3.55"/>
<circle cx="922.7" cy="264.9" r="3.55"/>
<circle cx="929.2" cy="265.8" r="3.55"/>
<circle cx="933.3" cy="264.0" r="3.55"/>
<circle cx="935.6" cy="259.8" r="3.55"/>
<circle cx="945.4" cy="261.2" r="3.55"/>
<circle cx="948.1" cy="259.4" r="3.55"/>
<circle cx="966.2" cy="259.8" r="3.55"/>
<circle cx="970.4" cy="261.5" r="3.55"/>
<circle cx="988.9" cy="263.1" r="3.55"/>
<circle cx="995.4" cy="258.0" r="3.55"/>
<circle cx="999.1" cy="261.7" r="3.55"/>
<circle cx="1016.7" cy="263.5" r="3.55"/>
<circle cx="1021.8" cy="275.1" r="3.55"/>
<circle cx="1035.9" cy="239.4" r="3.55"/>
<circle cx="1035.9" cy="244.5" r="3.55"/>
<circle cx="1035.9" cy="257.0" r="3.55"/>
<circle cx="1035.9" cy="262.6" r="3.55"/>
<circle cx="1040.7" cy="275.1" r="3.55"/>
<circle cx="1050.0" cy="264.0" r="3.55"/>
<circle cx="1054.6" cy="254.3" r="3.55"/>
<circle cx="1069.9" cy="273.5" r="3.55"/>
<circle cx="1077.3" cy="251.9" r="3.55"/>
<circle cx="1097.2" cy="235.7" r="3.55"/>
<circle cx="1107.9" cy="265.1" r="3.55"/>
<circle cx="1518.5" cy="226.0" r="3.55"/>
<circle cx="1518.5" cy="233.0" r="3.55"/>
<circle cx="1518.5" cy="235.7" r="3.55"/>
<circle cx="1518.5" cy="250.1" r="3.55"/>
<circle cx="1529.4" cy="243.9" r="3.55"/>
<circle cx="1529.4" cy="251.0" r="3.55"/>
<circle cx="1529.4" cy="254.3" r="3.55"/>
<circle cx="1529.4" cy="258.0" r="3.55"/>
<circle cx="1597.7" cy="228.3" r="3.55"/>
<circle cx="1594.0" cy="237.1" r="3.55"/>
<circle cx="1599.1" cy="238.3" r="3.55"/>
<circle cx="1690.8" cy="231.1" r="3.55"/>
<circle cx="1703.4" cy="232.8" r="3.55"/>
<circle cx="1703.6" cy="264.6" r="3.55"/>
<circle cx="1751.8" cy="230.6" r="3.55"/>
<circle cx="1758.2" cy="233.0" r="3.55"/>
<circle cx="1768.0" cy="235.7" r="3.55"/>
<circle cx="1751.8" cy="240.8" r="3.55"/>
<circle cx="1757.6" cy="242.7" r="3.55"/>
<circle cx="1757.6" cy="246.9" r="3.55"/>
<circle cx="1768.0" cy="253.5" r="3.55"/>
<circle cx="1811.0" cy="231.9" r="3.55"/>
<circle cx="1814.5" cy="272.8" r="3.55"/>
</g></g></svg>
<div class="t" id="t25" style="left:519.09px;top:375.00px;font-size:14.9px;color:#111827;letter-spacing:0.269px;">min datetime</div>
<div class="t" id="t26" style="left:1178.32px;top:375.00px;font-size:14.9px;color:#111827;letter-spacing:0.254px;">max datetime</div>
<div class="b" style="left:519.00px;top:392.00px;width:650.00px;height:40.00px;border:1px solid #dcdfe4;border-radius:7px;background:#f3f4f6;"></div>
<div class="b" style="left:1178.00px;top:392.00px;width:650.00px;height:40.00px;border:1px solid #dcdfe4;border-radius:7px;background:#f3f4f6;"></div>
<div class="t" id="t27" style="left:530.15px;top:404.00px;font-size:17.4px;color:#111827;letter-spacing:0.297px;">zoom x axis to set min (drag with ctrl)</div>
<div class="t" id="t28" style="left:1189.53px;top:404.00px;font-size:17.4px;color:#111827;letter-spacing:0.179px;">zoom x axis to set max</div>
<div class="b" style="left:519.00px;top:441.00px;width:272.00px;height:37.00px;border:1px solid #dfe2e6;border-radius:8px;"></div>
<div class="t" id="t29" style="left:533.21px;top:451.00px;font-size:19.9px;color:#6b7280;letter-spacing:0.265px;">Search by path</div>
<svg class="i" style="left:756.10px;top:459.60px;color:#2f6fd6;stroke-width:2.6" width="15.00" height="8.70" viewBox="0 0 20 11" preserveAspectRatio="none"><path d="M1.6 1.6 L10 9.4 L18.4 1.6" fill="none" stroke="currentColor" stroke-width="inherit" stroke-linecap="round" stroke-linejoin="round" vector-effect="non-scaling-stroke"/></svg>
<div class="b" style="left:800.00px;top:441.00px;width:50.00px;height:44.00px;border:1.3px solid #6f86b4;border-radius:7px;"></div>
<svg class="i" style="left:814.50px;top:452.30px;color:#5b7db1;" width="21.00" height="21.00" viewBox="0 0 21 21" preserveAspectRatio="none"><circle cx="9.1" cy="9" r="7.9" fill="currentColor"/><path d="M14.6 14.3 L19.6 19.8" stroke="currentColor" stroke-width="3" stroke-linecap="round"/><rect x="5.5" y="7.9" width="7.2" height="2.3" rx="1" fill="#fff"/></svg>
<div class="b" style="left:958.00px;top:441.00px;width:430.50px;height:50.00px;border:1px solid #dcdee2;border-radius:8px;"></div>
<div class="b" style="left:1398.00px;top:441.00px;width:430.00px;height:50.00px;border:1px solid #dcdee2;border-radius:8px;"></div>
<div class="t" id="t30" style="left:1084.39px;top:455.00px;font-size:19.9px;color:#333a4b;font-weight:700;letter-spacing:-0.389px;">Filter by args</div>
<svg class="i" style="left:1211.60px;top:457.20px;color:#6f7380;" width="15.40" height="15.70" viewBox="0 0 20 20" preserveAspectRatio="none"><circle cx="10" cy="10" r="10" fill="currentColor"/><circle cx="10" cy="5.9" r="1.45" fill="#fff"/><path d="M8 8.6 H11.2 V13.4 H12.3 V14.9 H7.8 V13.4 H9 V10.1 H8Z" fill="#fff"/></svg>
<svg class="i" style="left:1239.60px;top:459.40px;color:#2d3340;stroke-width:2.1" width="17.30" height="8.70" viewBox="0 0 20 11" preserveAspectRatio="none"><path d="M1.6 1.6 L10 9.4 L18.4 1.6" fill="none" stroke="currentColor" stroke-width="inherit" stroke-linecap="round" stroke-linejoin="round" vector-effect="non-scaling-stroke"/></svg>
<div class="t" id="t31" style="left:1517.26px;top:455.00px;font-size:19.9px;color:#333a4b;font-weight:700;letter-spacing:-0.312px;">Filter by result</div>
<svg class="i" style="left:1657.80px;top:457.20px;color:#6f7380;" width="15.10" height="15.70" viewBox="0 0 20 20" preserveAspectRatio="none"><circle cx="10" cy="10" r="10" fill="currentColor"/><circle cx="10" cy="5.9" r="1.45" fill="#fff"/><path d="M8 8.6 H11.2 V13.4 H12.3 V14.9 H7.8 V13.4 H9 V10.1 H8Z" fill="#fff"/></svg>
<svg class="i" style="left:1684.70px;top:459.40px;color:#2d3340;stroke-width:2.1" width="17.20" height="8.70" viewBox="0 0 20 11" preserveAspectRatio="none"><path d="M1.6 1.6 L10 9.4 L18.4 1.6" fill="none" stroke="currentColor" stroke-width="inherit" stroke-linecap="round" stroke-linejoin="round" vector-effect="non-scaling-stroke"/></svg>
<div class="b" style="left:519.00px;top:495.00px;width:1309.00px;height:86.00px;border:1px solid #c8c9cd;border-radius:6px;background:#fff;"></div>
<svg class="i" style="left:548.75px;top:522.50px;color:#2f3545;" width="12.50" height="13.50" viewBox="0 0 22 24" preserveAspectRatio="none"><rect x="5.2" y="0.6" width="3.2" height="6" rx="1.5" fill="currentColor"/><rect x="13.6" y="0.6" width="3.2" height="6" rx="1.5" fill="currentColor"/>
<path d="M1 7.6 V5.6 Q1 3.2 3.4 3.2 H18.6 Q21 3.2 21 5.6 V7.6 Z" fill="currentColor"/><path d="M1 9.2 H21 V21 Q21 23.4 18.6 23.4 H3.4 Q1 23.4 1 21 Z" fill="currentColor"/></svg>
<div class="t" id="t32" style="left:589.28px;top:520.00px;font-size:17.4px;color:#3b7be6;letter-spacing:0.240px;">hub/868/gmail/_send_email</div>
<div class="t" id="t33" style="left:588.09px;top:544.00px;font-size:14.4px;color:#6b7280;font-style:italic;letter-spacing:-0.008px;">619e9669</div>
<svg class="i" style="left:817.10px;top:517.20px" width="37.9" height="23.6"><rect width="37.9" height="23.6" rx="6" fill="#f3f4f6"/></svg>
<svg class="i" style="left:829.00px;top:523.30px;color:#111;" width="13.70" height="13.70" viewBox="0 0 20 20" preserveAspectRatio="none"><circle cx="8.2" cy="8.2" r="6.1" fill="none" stroke="currentColor" stroke-width="2.5"/><path d="M12.9 12.9 L18.4 18.4" stroke="currentColor" stroke-width="2.7" stroke-linecap="round"/></svg>
<svg class="i" style="left:864.80px;top:517.20px" width="97.10" height="23.6"><rect width="97.10" height="23.6" rx="6" fill="#dbeafe"/></svg>
<div class="t" id="t34" style="left:876.94px;top:522.00px;font-size:14.7px;color:#1e40af;font-weight:700;letter-spacing:-0.246px;">script_hub</div>
<svg class="i" style="left:1201.90px;top:519.20px;color:#2f3545;" width="12.30" height="13.70" viewBox="0 0 24 26" preserveAspectRatio="none"><circle cx="12" cy="6.6" r="6.2" fill="currentColor"/><path d="M0.4 23.8 C0.4 18.6 4.4 15.2 9 15.2 H15 C19.6 15.2 23.6 18.6 23.6 23.8 Q23.6 25.8 21.6 25.8 H2.4 Q0.4 25.8 0.4 23.8Z" fill="currentColor"/></svg>
<div class="t" id="t35" style="left:1223.96px;top:518.00px;font-size:14.9px;color:#555c6b;letter-spacing:0.092px;">By henri</div>
<svg class="i" style="left:1508.50px;top:516.70px;color:#4b5563;" width="13.90" height="14.20" viewBox="0 0 20 20" preserveAspectRatio="none"><path d="M17.4 7.6 V5.4 Q17.4 3.6 15.6 3.6 H3.2 Q1.4 3.6 1.4 5.4 V16.6 Q1.4 18.4 3.2 18.4 H6.6 M1.4 8.2 H6.8 M5.6 1.2 V5 M13.2 1.2 V5" fill="none" stroke="currentColor" stroke-width="1.3" stroke-linecap="round" stroke-linejoin="round"/><circle cx="13.6" cy="14" r="5" fill="none" stroke="currentColor" stroke-width="1.25"/><path d="M13.6 11.6 V14.2 L15.4 15.4" fill="none" stroke="currentColor" stroke-width="1.2" stroke-linecap="round"/></svg>
<svg class="i" style="left:1528.2px;top:516.00px" width="81.5" height="17.75"><rect width="81.5" height="17.75" rx="4" fill="#bfdbfe"/></svg>
<div class="t" id="t36" style="left:1532.95px;top:518.00px;font-size:14.9px;color:#25324a;letter-spacing:0.038px;">Scheduled</div>
<div class="t" id="t37" style="left:1615.09px;top:518.00px;font-size:14.9px;color:#555c6b;letter-spacing:-0.030px;">for 16:27 19/4</div>
<svg class="i" style="left:1509.90px;top:544.80px;color:#2f3545;" width="13.00" height="10.50" viewBox="0 0 13 10.5" preserveAspectRatio="none"><path d="M0.8 0.9 H10.6 M3 5.25 H12.2 M0.8 9.6 H10.6" stroke="currentColor" stroke-width="1.7" stroke-linecap="round"/></svg>
<div class="t" id="t38" style="left:1528.42px;top:541.00px;font-size:14.9px;color:#555c6b;letter-spacing:0.213px;">Step of flow</div>
<div class="t" id="t39" style="left:1614.45px;top:541.00px;font-size:14.9px;color:#3b7be6;letter-spacing:0.312px;">...88eff3</div>
<div class="b" style="left:519.00px;top:601.00px;width:1309.00px;height:86.00px;border:1px solid #c8c9cd;border-radius:6px;background:#fff;"></div>
<svg class="i" style="left:566px;top:586.00px" width="3" height="15"><line x1="1.5" y1="0.2" x2="1.5" y2="15" stroke="#8a8c92" stroke-width="1" stroke-dasharray="4.9 4.6"/></svg>
<svg class="i" style="left:549.60px;top:629.36px;color:#16a34a;" width="11.80" height="9.30" viewBox="0 0 12 10" preserveAspectRatio="none"><path d="M1.5 5.4 L4.4 8.2 L10.5 1.6" fill="none" stroke="currentColor" stroke-width="2.7" stroke-linecap="round" stroke-linejoin="round"/></svg>
<div class="t" id="t40" style="left:591.20px;top:625.00px;font-size:17.4px;color:#3b7be6;letter-spacing:0.245px;">hub/849/slack/send_message_to_channel</div>
<div class="t" id="t41" style="left:588.31px;top:648.00px;font-size:14.4px;color:#6b7280;font-style:italic;letter-spacing:0.150px;">5a6bcd36</div>
<svg class="i" style="left:934.10px;top:622.06px" width="37.9" height="23.6"><rect width="37.9" height="23.6" rx="6" fill="#f3f4f6"/></svg>
<svg class="i" style="left:946.00px;top:628.16px;color:#111;" width="13.70" height="13.70" viewBox="0 0 20 20" preserveAspectRatio="none"><circle cx="8.2" cy="8.2" r="6.1" fill="none" stroke="currentColor" stroke-width="2.5"/><path d="M12.9 12.9 L18.4 18.4" stroke="currentColor" stroke-width="2.7" stroke-linecap="round"/></svg>
<svg class="i" style="left:981.80px;top:622.06px" width="97.10" height="23.6"><rect width="97.10" height="23.6" rx="6" fill="#dbeafe"/></svg>
<div class="t" id="t42" style="left:993.94px;top:627.00px;font-size:14.7px;color:#1e40af;font-weight:700;letter-spacing:-0.246px;">script_hub</div>
<svg class="i" style="left:1201.90px;top:624.06px;color:#2f3545;" width="12.30" height="13.70" viewBox="0 0 24 26" preserveAspectRatio="none"><circle cx="12" cy="6.6" r="6.2" fill="currentColor"/><path d="M0.4 23.8 C0.4 18.6 4.4 15.2 9 15.2 H15 C19.6 15.2 23.6 18.6 23.6 23.8 Q23.6 25.8 21.6 25.8 H2.4 Q0.4 25.8 0.4 23.8Z" fill="currentColor"/></svg>
<div class="t" id="t43" style="left:1223.96px;top:623.00px;font-size:14.9px;color:#555c6b;letter-spacing:0.092px;">By henri</div>
<svg class="i" style="left:1201.90px;top:647.86px;color:#2f3545;" width="10.70" height="13.70" viewBox="0 0 16 21" preserveAspectRatio="none"><rect x="0.4" y="0.3" width="15.2" height="2.7" rx="1" fill="currentColor"/><rect x="0.4" y="18" width="15.2" height="2.7" rx="1" fill="currentColor"/>
<path d="M2.2 2.6 H13.8 C13.8 6.6 11.6 8.6 9.6 10.5 C11.6 12.4 13.8 14.4 13.8 18.4 H2.2 C2.2 14.4 4.4 12.4 6.4 10.5 C4.4 8.6 2.2 6.6 2.2 2.6Z" fill="currentColor"/><path d="M8 12.4 C9.2 13.4 10.2 14.3 10.7 15.6 H5.3 C5.8 14.3 6.8 13.4 8 12.4Z M5 4.6 H11 C10.9 5 10.8 5.3 10.6 5.6 H5.4 C5.2 5.3 5.1 5 5 4.6Z" fill="#fff"/></svg>
<div class="t" id="t44" style="left:1222.34px;top:646.00px;font-size:14.9px;color:#555c6b;letter-spacing:-0.239px;">Ran in 1,308s</div>
<svg class="i" style="left:1509.70px;top:623.56px;color:#2f3545;" width="13.60" height="14.00" viewBox="0 0 20 20" preserveAspectRatio="none"><circle cx="10" cy="10" r="10" fill="currentColor"/><path d="M10 4.6 V10.2 L13.8 12.7" fill="none" stroke="#fff" stroke-width="1.9" stroke-linecap="round" stroke-linejoin="round"/></svg>
<div class="t" id="t45" style="left:1530.14px;top:623.00px;font-size:14.9px;color:#555c6b;letter-spacing:0.134px;">Ended 16:24 19/4 (23s ago)</div>
<svg class="i" style="left:1509.90px;top:649.66px;color:#2f3545;" width="13.00" height="10.50" viewBox="0 0 13 10.5" preserveAspectRatio="none"><path d="M0.8 0.9 H10.6 M3 5.25 H12.2 M0.8 9.6 H10.6" stroke="currentColor" stroke-width="1.7" stroke-linecap="round"/></svg>
<div class="t" id="t46" style="left:1528.42px;top:646.00px;font-size:14.9px;color:#555c6b;letter-spacing:0.213px;">Step of flow</div>
<div class="t" id="t47" style="left:1614.45px;top:646.00px;font-size:14.9px;color:#3b7be6;letter-spacing:0.312px;">...88eff3</div>
<div class="b" style="left:519.00px;top:705.00px;width:1309.00px;height:86.00px;border:1px solid #c8c9cd;border-radius:6px;background:#fff;"></div>
<svg class="i" style="left:566px;top:690.00px" width="3" height="15"><line x1="1.5" y1="0.2" x2="1.5" y2="15" stroke="#8a8c92" stroke-width="1" stroke-dasharray="4.9 4.6"/></svg>
<svg class="i" style="left:547px;top:730.72px" width="17" height="17"><circle cx="8.4" cy="8.1" r="6.8" fill="#e9b10c"/></svg>
<div class="t" id="t48" style="left:591.10px;top:729.00px;font-size:17.4px;color:#3b7be6;letter-spacing:0.152px;">u/henri/publish_slack_wait_mail</div>
<div class="t" id="t49" style="left:588.37px;top:753.00px;font-size:14.4px;color:#6b7280;font-style:italic;letter-spacing:0.359px;">0c88eff3</div>
<svg class="i" style="left:849.30px;top:726.92px" width="37.9" height="23.6"><rect width="37.9" height="23.6" rx="6" fill="#f3f4f6"/></svg>
<svg class="i" style="left:861.20px;top:733.02px;color:#111;" width="13.70" height="13.70" viewBox="0 0 20 20" preserveAspectRatio="none"><circle cx="8.2" cy="8.2" r="6.1" fill="none" stroke="currentColor" stroke-width="2.5"/><path d="M12.9 12.9 L18.4 18.4" stroke="currentColor" stroke-width="2.7" stroke-linecap="round"/></svg>
<svg class="i" style="left:897.00px;top:726.92px" width="53.30" height="23.6"><rect width="53.30" height="23.6" rx="6" fill="#dbeafe"/></svg>
<div class="t" id="t50" style="left:909.51px;top:731.00px;font-size:14.7px;color:#1e40af;font-weight:700;letter-spacing:-0.371px;">flow</div>
<svg class="i" style="left:1201.90px;top:728.92px;color:#2f3545;" width="12.30" height="13.70" viewBox="0 0 24 26" preserveAspectRatio="none"><circle cx="12" cy="6.6" r="6.2" fill="currentColor"/><path d="M0.4 23.8 C0.4 18.6 4.4 15.2 9 15.2 H15 C19.6 15.2 23.6 18.6 23.6 23.8 Q23.6 25.8 21.6 25.8 H2.4 Q0.4 25.8 0.4 23.8Z" fill="currentColor"/></svg>
<div class="t" id="t51" style="left:1223.96px;top:728.00px;font-size:14.9px;color:#555c6b;letter-spacing:0.092px;">By henri</div>
<svg class="i" style="left:1509.70px;top:728.42px;color:#2f3545;" width="13.60" height="14.00" viewBox="0 0 20 20" preserveAspectRatio="none"><circle cx="10" cy="10" r="10" fill="currentColor"/><path d="M10 4.6 V10.2 L13.8 12.7" fill="none" stroke="#fff" stroke-width="1.9" stroke-linecap="round" stroke-linejoin="round"/></svg>
<div class="t" id="t52" style="left:1530.27px;top:728.00px;font-size:14.9px;color:#555c6b;letter-spacing:0.327px;">Started 24s ago</div>
<div class="b" style="left:519.00px;top:810.00px;width:1309.00px;height:86.00px;border:1px solid #c8c9cd;border-radius:6px;background:#fff;"></div>
<svg class="i" style="left:566px;top:795.00px" width="3" height="15"><line x1="1.5" y1="0.2" x2="1.5" y2="15" stroke="#8a8c92" stroke-width="1" stroke-dasharray="4.9 4.6"/></svg>
<svg class="i" style="left:549.60px;top:839.08px;color:#16a34a;" width="11.80" height="9.30" viewBox="0 0 12 10" preserveAspectRatio="none"><path d="M1.5 5.4 L4.4 8.2 L10.5 1.6" fill="none" stroke="currentColor" stroke-width="2.7" stroke-linecap="round" stroke-linejoin="round"/></svg>
<div class="t" id="t53" style="left:592.07px;top:834.00px;font-size:17.4px;color:#3b7be6;letter-spacing:0.250px;">/Background Script 0</div>
<div class="t" id="t54" style="left:588.38px;top:858.00px;font-size:14.4px;color:#6b7280;font-style:italic;letter-spacing:0.345px;">38c8486f</div>
<svg class="i" style="left:768.00px;top:831.78px" width="37.9" height="23.6"><rect width="37.9" height="23.6" rx="6" fill="#f3f4f6"/></svg>
<svg class="i" style="left:779.90px;top:837.88px;color:#111;" width="13.70" height="13.70" viewBox="0 0 20 20" preserveAspectRatio="none"><circle cx="8.2" cy="8.2" r="6.1" fill="none" stroke="currentColor" stroke-width="2.5"/><path d="M12.9 12.9 L18.4 18.4" stroke="currentColor" stroke-width="2.7" stroke-linecap="round"/></svg>
<svg class="i" style="left:815.70px;top:831.78px" width="78.60" height="23.6"><rect width="78.60" height="23.6" rx="6" fill="#dbeafe"/></svg>
<div class="t" id="t55" style="left:827.59px;top:836.00px;font-size:14.7px;color:#1e40af;font-weight:700;letter-spacing:-0.088px;">preview</div>
<svg class="i" style="left:1201.90px;top:833.78px;color:#2f3545;" width="12.30" height="13.70" viewBox="0 0 24 26" preserveAspectRatio="none"><circle cx="12" cy="6.6" r="6.2" fill="currentColor"/><path d="M0.4 23.8 C0.4 18.6 4.4 15.2 9 15.2 H15 C19.6 15.2 23.6 18.6 23.6 23.8 Q23.6 25.8 21.6 25.8 H2.4 Q0.4 25.8 0.4 23.8Z" fill="currentColor"/></svg>
<div class="t" id="t56" style="left:1223.96px;top:833.00px;font-size:14.9px;color:#555c6b;letter-spacing:0.374px;">By faton</div>
<svg class="i" style="left:1201.90px;top:857.58px;color:#2f3545;" width="10.70" height="13.70" viewBox="0 0 16 21" preserveAspectRatio="none"><rect x="0.4" y="0.3" width="15.2" height="2.7" rx="1" fill="currentColor"/><rect x="0.4" y="18" width="15.2" height="2.7" rx="1" fill="currentColor"/>
<path d="M2.2 2.6 H13.8 C13.8 6.6 11.6 8.6 9.6 10.5 C11.6 12.4 13.8 14.4 13.8 18.4 H2.2 C2.2 14.4 4.4 12.4 6.4 10.5 C4.4 8.6 2.2 6.6 2.2 2.6Z" fill="currentColor"/><path d="M8 12.4 C9.2 13.4 10.2 14.3 10.7 15.6 H5.3 C5.8 14.3 6.8 13.4 8 12.4Z M5 4.6 H11 C10.9 5 10.8 5.3 10.6 5.6 H5.4 C5.2 5.3 5.1 5 5 4.6Z" fill="#fff"/></svg>
<div class="t" id="t57" style="left:1222.34px;top:856.00px;font-size:14.9px;color:#555c6b;letter-spacing:0.108px;">Ran in 0,438s</div>
<svg class="i" style="left:1509.70px;top:833.28px;color:#2f3545;" width="13.60" height="14.00" viewBox="0 0 20 20" preserveAspectRatio="none"><circle cx="10" cy="10" r="10" fill="currentColor"/><path d="M10 4.6 V10.2 L13.8 12.7" fill="none" stroke="#fff" stroke-width="1.9" stroke-linecap="round" stroke-linejoin="round"/></svg>
<div class="t" id="t58" style="left:1530.14px;top:833.00px;font-size:14.9px;color:#555c6b;letter-spacing:0.134px;">Ended 16:23 19/4 (88s ago)</div>
<div class="b" style="left:519.00px;top:915.00px;width:1309.00px;height:86.00px;border:1px solid #c8c9cd;border-radius:6px;background:#fff;"></div>
<svg class="i" style="left:566px;top:900.00px" width="3" height="15"><line x1="1.5" y1="0.2" x2="1.5" y2="15" stroke="#8a8c92" stroke-width="1" stroke-dasharray="4.9 4.6"/></svg>
<svg class="i" style="left:548.75px;top:941.94px;color:#2f3545;" width="12.50" height="13.50" viewBox="0 0 22 24" preserveAspectRatio="none"><rect x="5.2" y="0.6" width="3.2" height="6" rx="1.5" fill="currentColor"/><rect x="13.6" y="0.6" width="3.2" height="6" rx="1.5" fill="currentColor"/>
<path d="M1 7.6 V5.6 Q1 3.2 3.4 3.2 H18.6 Q21 3.2 21 5.6 V7.6 Z" fill="currentColor"/><path d="M1 9.2 H21 V21 Q21 23.4 18.6 23.4 H3.4 Q1 23.4 1 21 Z" fill="currentColor"/></svg>
<div class="t" id="t59" style="left:589.28px;top:939.00px;font-size:17.4px;color:#3b7be6;letter-spacing:0.240px;">hub/868/gmail/_send_email</div>
<div class="t" id="t60" style="left:588.09px;top:963.00px;font-size:14.4px;color:#6b7280;font-style:italic;letter-spacing:0.318px;">60b9f0fe</div>
<svg class="i" style="left:817.10px;top:936.64px" width="37.9" height="23.6"><rect width="37.9" height="23.6" rx="6" fill="#f3f4f6"/></svg>
<svg class="i" style="left:829.00px;top:942.74px;color:#111;" width="13.70" height="13.70" viewBox="0 0 20 20" preserveAspectRatio="none"><circle cx="8.2" cy="8.2" r="6.1" fill="none" stroke="currentColor" stroke-width="2.5"/><path d="M12.9 12.9 L18.4 18.4" stroke="currentColor" stroke-width="2.7" stroke-linecap="round"/></svg>
<svg class="i" style="left:864.80px;top:936.64px" width="97.10" height="23.6"><rect width="97.10" height="23.6" rx="6" fill="#dbeafe"/></svg>
<div class="t" id="t61" style="left:876.94px;top:941.00px;font-size:14.7px;color:#1e40af;font-weight:700;letter-spacing:-0.246px;">script_hub</div>
<svg class="i" style="left:1201.90px;top:938.64px;color:#2f3545;" width="12.30" height="13.70" viewBox="0 0 24 26" preserveAspectRatio="none"><circle cx="12" cy="6.6" r="6.2" fill="currentColor"/><path d="M0.4 23.8 C0.4 18.6 4.4 15.2 9 15.2 H15 C19.6 15.2 23.6 18.6 23.6 23.8 Q23.6 25.8 21.6 25.8 H2.4 Q0.4 25.8 0.4 23.8Z" fill="currentColor"/></svg>
<div class="t" id="t62" style="left:1223.96px;top:937.00px;font-size:14.9px;color:#555c6b;letter-spacing:0.092px;">By henri</div>
<svg class="i" style="left:1508.50px;top:936.14px;color:#4b5563;" width="13.90" height="14.20" viewBox="0 0 20 20" preserveAspectRatio="none"><path d="M17.4 7.6 V5.4 Q17.4 3.6 15.6 3.6 H3.2 Q1.4 3.6 1.4 5.4 V16.6 Q1.4 18.4 3.2 18.4 H6.6 M1.4 8.2 H6.8 M5.6 1.2 V5 M13.2 1.2 V5" fill="none" stroke="currentColor" stroke-width="1.3" stroke-linecap="round" stroke-linejoin="round"/><circle cx="13.6" cy="14" r="5" fill="none" stroke="currentColor" stroke-width="1.25"/><path d="M13.6 11.6 V14.2 L15.4 15.4" fill="none" stroke="currentColor" stroke-width="1.2" stroke-linecap="round"/></svg>
<svg class="i" style="left:1528.2px;top:935.44px" width="81.5" height="17.75"><rect width="81.5" height="17.75" rx="4" fill="#bfdbfe"/></svg>
<div class="t" id="t63" style="left:1532.95px;top:937.00px;font-size:14.9px;color:#25324a;letter-spacing:0.038px;">Scheduled</div>
<div class="t" id="t64" style="left:1615.09px;top:937.00px;font-size:14.9px;color:#555c6b;letter-spacing:-0.030px;">for 16:25 19/4</div>
<svg class="i" style="left:1509.90px;top:964.24px;color:#2f3545;" width="13.00" height="10.50" viewBox="0 0 13 10.5" preserveAspectRatio="none"><path d="M0.8 0.9 H10.6 M3 5.25 H12.2 M0.8 9.6 H10.6" stroke="currentColor" stroke-width="1.7" stroke-linecap="round"/></svg>
<div class="t" id="t65" style="left:1528.42px;top:961.00px;font-size:14.9px;color:#555c6b;letter-spacing:0.213px;">Step of flow</div>
<div class="t" id="t66" style="left:1614.45px;top:961.00px;font-size:14.9px;color:#3b7be6;letter-spacing:-0.233px;">...11f08b</div>
<div class="b" style="left:519.00px;top:1020.00px;width:1309.00px;height:86.00px;border:1px solid #c8c9cd;border-radius:6px;background:#fff;"></div>
<svg class="i" style="left:566px;top:1005.00px" width="3" height="15"><line x1="1.5" y1="0.2" x2="1.5" y2="15" stroke="#8a8c92" stroke-width="1" stroke-dasharray="4.9 4.6"/></svg>
<svg class="i" style="left:549.60px;top:1048.80px;color:#16a34a;" width="11.80" height="9.30" viewBox="0 0 12 10" preserveAspectRatio="none"><path d="M1.5 5.4 L4.4 8.2 L10.5 1.6" fill="none" stroke="currentColor" stroke-width="2.7" stroke-linecap="round" stroke-linejoin="round"/></svg>
<div class="t" id="t67" style="left:591.20px;top:1044.00px;font-size:17.4px;color:#3b7be6;letter-spacing:0.245px;">hub/849/slack/send_message_to_channel</div>
<div class="t" id="t68" style="left:588.79px;top:1068.00px;font-size:14.4px;color:#6b7280;font-style:italic;letter-spacing:0.235px;">bd0cdf2b</div>
<svg class="i" style="left:934.10px;top:1041.50px" width="37.9" height="23.6"><rect width="37.9" height="23.6" rx="6" fill="#f3f4f6"/></svg>
<svg class="i" style="left:946.00px;top:1047.60px;color:#111;" width="13.70" height="13.70" viewBox="0 0 20 20" preserveAspectRatio="none"><circle cx="8.2" cy="8.2" r="6.1" fill="none" stroke="currentColor" stroke-width="2.5"/><path d="M12.9 12.9 L18.4 18.4" stroke="currentColor" stroke-width="2.7" stroke-linecap="round"/></svg>
<svg class="i" style="left:981.80px;top:1041.50px" width="97.10" height="23.6"><rect width="97.10" height="23.6" rx="6" fill="#dbeafe"/></svg>
<div class="t" id="t69" style="left:993.94px;top:1046.00px;font-size:14.7px;color:#1e40af;font-weight:700;letter-spacing:-0.246px;">script_hub</div>
<svg class="i" style="left:1201.90px;top:1043.50px;color:#2f3545;" width="12.30" height="13.70" viewBox="0 0 24 26" preserveAspectRatio="none"><circle cx="12" cy="6.6" r="6.2" fill="currentColor"/><path d="M0.4 23.8 C0.4 18.6 4.4 15.2 9 15.2 H15 C19.6 15.2 23.6 18.6 23.6 23.8 Q23.6 25.8 21.6 25.8 H2.4 Q0.4 25.8 0.4 23.8Z" fill="currentColor"/></svg>
<div class="t" id="t70" style="left:1223.96px;top:1042.00px;font-size:14.9px;color:#555c6b;letter-spacing:0.092px;">By henri</div>
<svg class="i" style="left:1201.90px;top:1067.30px;color:#2f3545;" width="10.70" height="13.70" viewBox="0 0 16 21" preserveAspectRatio="none"><rect x="0.4" y="0.3" width="15.2" height="2.7" rx="1" fill="currentColor"/><rect x="0.4" y="18" width="15.2" height="2.7" rx="1" fill="currentColor"/>
<path d="M2.2 2.6 H13.8 C13.8 6.6 11.6 8.6 9.6 10.5 C11.6 12.4 13.8 14.4 13.8 18.4 H2.2 C2.2 14.4 4.4 12.4 6.4 10.5 C4.4 8.6 2.2 6.6 2.2 2.6Z" fill="currentColor"/><path d="M8 12.4 C9.2 13.4 10.2 14.3 10.7 15.6 H5.3 C5.8 14.3 6.8 13.4 8 12.4Z M5 4.6 H11 C10.9 5 10.8 5.3 10.6 5.6 H5.4 C5.2 5.3 5.1 5 5 4.6Z" fill="#fff"/></svg>
<div class="t" id="t71" style="left:1222.34px;top:1066.00px;font-size:14.9px;color:#555c6b;letter-spacing:-0.322px;">Ran in 1,707s</div>
<svg class="i" style="left:1509.70px;top:1043.00px;color:#2f3545;" width="13.60" height="14.00" viewBox="0 0 20 20" preserveAspectRatio="none"><circle cx="10" cy="10" r="10" fill="currentColor"/><path d="M10 4.6 V10.2 L13.8 12.7" fill="none" stroke="#fff" stroke-width="1.9" stroke-linecap="round" stroke-linejoin="round"/></svg>
<div class="t" id="t72" style="left:1530.14px;top:1042.00px;font-size:14.9px;color:#555c6b;letter-spacing:0.079px;">Ended 16:22 19/4 (134s ago)</div>
<svg class="i" style="left:1509.90px;top:1069.10px;color:#2f3545;" width="13.00" height="10.50" viewBox="0 0 13 10.5" preserveAspectRatio="none"><path d="M0.8 0.9 H10.6 M3 5.25 H12.2 M0.8 9.6 H10.6" stroke="currentColor" stroke-width="1.7" stroke-linecap="round"/></svg>
<div class="t" id="t73" style="left:1528.42px;top:1066.00px;font-size:14.9px;color:#555c6b;letter-spacing:0.213px;">Step of flow</div>
<div class="t" id="t74" style="left:1614.45px;top:1066.00px;font-size:14.9px;color:#3b7be6;letter-spacing:-0.233px;">...11f08b</div>
<div class="b" style="left:519.00px;top:1125.00px;width:1309.00px;height:86.00px;border:1px solid #c8c9cd;border-radius:6px;background:#fff;"></div>
<svg class="i" style="left:566px;top:1110.00px" width="3" height="15"><line x1="1.5" y1="0.2" x2="1.5" y2="15" stroke="#8a8c92" stroke-width="1" stroke-dasharray="4.9 4.6"/></svg>
<svg class="i" style="left:547px;top:1150.16px" width="17" height="17"><circle cx="8.4" cy="8.1" r="6.8" fill="#e9b10c"/></svg>
<div class="t" id="t75" style="left:591.10px;top:1149.00px;font-size:17.4px;color:#3b7be6;letter-spacing:0.152px;">u/henri/publish_slack_wait_mail</div>
<div class="t" id="t76" style="left:587.54px;top:1173.00px;font-size:14.4px;color:#6b7280;font-style:italic;letter-spacing:-0.087px;">7811f08b</div>
<svg class="i" style="left:849.30px;top:1146.36px" width="37.9" height="23.6"><rect width="37.9" height="23.6" rx="6" fill="#f3f4f6"/></svg>
<svg class="i" style="left:861.20px;top:1152.46px;color:#111;" width="13.70" height="13.70" viewBox="0 0 20 20" preserveAspectRatio="none"><circle cx="8.2" cy="8.2" r="6.1" fill="none" stroke="currentColor" stroke-width="2.5"/><path d="M12.9 12.9 L18.4 18.4" stroke="currentColor" stroke-width="2.7" stroke-linecap="round"/></svg>
<svg class="i" style="left:897.00px;top:1146.36px" width="108.50" height="23.6"><rect width="108.50" height="23.6" rx="6" fill="#dbeafe"/></svg>
<div class="t" id="t77" style="left:909.51px;top:1151.00px;font-size:14.7px;color:#1e40af;font-weight:700;letter-spacing:-0.083px;">flowpreview</div>
<svg class="i" style="left:1201.90px;top:1148.36px;color:#2f3545;" width="12.30" height="13.70" viewBox="0 0 24 26" preserveAspectRatio="none"><circle cx="12" cy="6.6" r="6.2" fill="currentColor"/><path d="M0.4 23.8 C0.4 18.6 4.4 15.2 9 15.2 H15 C19.6 15.2 23.6 18.6 23.6 23.8 Q23.6 25.8 21.6 25.8 H2.4 Q0.4 25.8 0.4 23.8Z" fill="currentColor"/></svg>
<div class="t" id="t78" style="left:1223.96px;top:1147.00px;font-size:14.9px;color:#555c6b;letter-spacing:0.092px;">By henri</div>
<svg class="i" style="left:1509.70px;top:1147.86px;color:#2f3545;" width="13.60" height="14.00" viewBox="0 0 20 20" preserveAspectRatio="none"><circle cx="10" cy="10" r="10" fill="currentColor"/><path d="M10 4.6 V10.2 L13.8 12.7" fill="none" stroke="#fff" stroke-width="1.9" stroke-linecap="round" stroke-linejoin="round"/></svg>
<div class="t" id="t79" style="left:1530.27px;top:1147.00px;font-size:14.9px;color:#555c6b;letter-spacing:0.210px;">Started 135s ago</div>
<svg class="i" style="left:498px;top:484px" width="1352" height="320" viewBox="498 484 1352 320"><rect x="503.45" y="489.55" width="1340.9" height="309.05" fill="none" stroke="#11a650" stroke-width="4.6"/></svg>
<div class="b" style="left:2154.50px;top:0.00px;width:5.50px;height:372.50px;background:#c4c4c4;"></div>
</body></html>
